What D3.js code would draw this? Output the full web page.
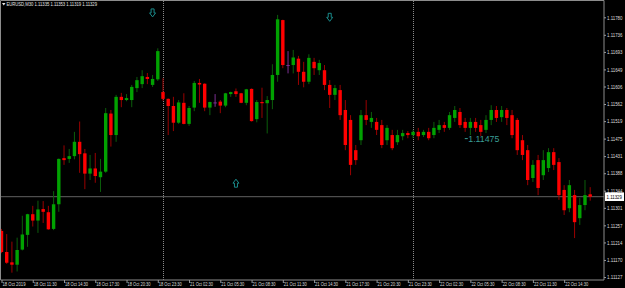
<!DOCTYPE html>
<html>
<head>
<meta charset="utf-8">
<script src="https://cdn.jsdelivr.net/npm/d3@7"></script>
<style>
  html, body { margin: 0; padding: 0; background: #000; }
  svg { display: block; }
</style>
</head>
<body>
<div id="chart"></div>
<script>
// EURUSD M30 candles, 18 Oct 08:30 .. 22 Oct 16:30
let opens = [
  1.11243, 1.11190, 1.11164, 1.11158, 1.11196, 1.11233, 1.11285, 1.11269, 1.11298, 1.11290,
  1.11248, 1.11310, 1.11426, 1.11424, 1.11431, 1.11467, 1.11438, 1.11387, 1.11400, 1.11378,
  1.11392, 1.11538, 1.11484, 1.11580, 1.11572, 1.11572, 1.11602, 1.11612, 1.11630, 1.11610,
  1.11624, 1.11592, 1.11575, 1.11557, 1.11515, 1.11565, 1.11512, 1.11553, 1.11615, 1.11613,
  1.11553, 1.11566, 1.11568, 1.11558, 1.11587, 1.11594, 1.11589, 1.11565, 1.11600, 1.11524,
  1.11567, 1.11564, 1.11572, 1.11635, 1.11773, 1.11660, 1.11660, 1.11676, 1.11643, 1.11618,
  1.11668, 1.11647, 1.11647, 1.11610, 1.11585, 1.11597, 1.11547, 1.11522, 1.11446, 1.11471,
  1.11534, 1.11517, 1.11517, 1.11509, 1.11471, 1.11484, 1.11466, 1.11481, 1.11489, 1.11484,
  1.11492, 1.11484, 1.11492, 1.11484, 1.11497, 1.11509, 1.11502, 1.11527, 1.11542, 1.11517,
  1.11502, 1.11517, 1.11509, 1.11497, 1.11522, 1.11547, 1.11529, 1.11547, 1.11534, 1.11522,
  1.11471, 1.11446, 1.11376, 1.11421, 1.11383, 1.11401, 1.11441, 1.11416, 1.11346, 1.11300,
  1.11333, 1.11275, 1.11308, 1.11335
];
let highs = [
  1.11248, 1.11235, 1.11216, 1.11226, 1.11281, 1.11286, 1.11306, 1.11319, 1.11318, 1.11306,
  1.11343, 1.11425, 1.11458, 1.11449, 1.11492, 1.11518, 1.11449, 1.11434, 1.11439, 1.11424,
  1.11552, 1.11547, 1.11585, 1.11590, 1.11587, 1.11610, 1.11630, 1.11647, 1.11640, 1.11635,
  1.11702, 1.11627, 1.11576, 1.11580, 1.11572, 1.11589, 1.11557, 1.11620, 1.11625, 1.11614,
  1.11568, 1.11587, 1.11572, 1.11590, 1.11593, 1.11601, 1.11590, 1.11600, 1.11601, 1.11572,
  1.11603, 1.11582, 1.11662, 1.11786, 1.11774, 1.11695, 1.11698, 1.11683, 1.11668, 1.11687,
  1.11678, 1.11673, 1.11660, 1.11622, 1.11610, 1.11610, 1.11572, 1.11534, 1.11459, 1.11547,
  1.11572, 1.11542, 1.11527, 1.11522, 1.11509, 1.11497, 1.11497, 1.11497, 1.11494, 1.11497,
  1.11502, 1.11497, 1.11502, 1.11517, 1.11522, 1.11517, 1.11542, 1.11557, 1.11552, 1.11527,
  1.11527, 1.11527, 1.11522, 1.11534, 1.11559, 1.11557, 1.11557, 1.11552, 1.11547, 1.11527,
  1.11484, 1.11459, 1.11421, 1.11434, 1.11446, 1.11451, 1.11451, 1.11426, 1.11358, 1.11371,
  1.11346, 1.11326, 1.11371, 1.11353
];
let lows = [
  1.11187, 1.11160, 1.11138, 1.11141, 1.11194, 1.11203, 1.11254, 1.11238, 1.11263, 1.11246,
  1.11245, 1.11291, 1.11409, 1.11414, 1.11423, 1.11389, 1.11348, 1.11371, 1.11364, 1.11341,
  1.11389, 1.11455, 1.11467, 1.11554, 1.11569, 1.11554, 1.11592, 1.11602, 1.11612, 1.11605,
  1.11620, 1.11570, 1.11484, 1.11494, 1.11512, 1.11511, 1.11507, 1.11544, 1.11565, 1.11544,
  1.11534, 1.11555, 1.11539, 1.11554, 1.11580, 1.11580, 1.11564, 1.11559, 1.11518, 1.11516,
  1.11527, 1.11488, 1.11549, 1.11618, 1.11652, 1.11639, 1.11639, 1.11610, 1.11604, 1.11612,
  1.11635, 1.11635, 1.11597, 1.11552, 1.11572, 1.11522, 1.11446, 1.11383, 1.11409, 1.11459,
  1.11509, 1.11502, 1.11484, 1.11451, 1.11459, 1.11446, 1.11459, 1.11471, 1.11476, 1.11476,
  1.11471, 1.11479, 1.11471, 1.11476, 1.11489, 1.11492, 1.11497, 1.11517, 1.11502, 1.11492,
  1.11484, 1.11492, 1.11481, 1.11489, 1.11509, 1.11517, 1.11517, 1.11509, 1.11476, 1.11434,
  1.11421, 1.11358, 1.11366, 1.11333, 1.11371, 1.11391, 1.11396, 1.11321, 1.11283, 1.11290,
  1.11225, 1.11258, 1.11295, 1.11319
];
let closes = [
  1.11190, 1.11163, 1.11158, 1.11195, 1.11234, 1.11285, 1.11269, 1.11297, 1.11291, 1.11247,
  1.11310, 1.11424, 1.11421, 1.11431, 1.11467, 1.11436, 1.11387, 1.11400, 1.11381, 1.11392,
  1.11539, 1.11484, 1.11580, 1.11572, 1.11577, 1.11605, 1.11622, 1.11632, 1.11625, 1.11625,
  1.11695, 1.11575, 1.11557, 1.11515, 1.11566, 1.11512, 1.11552, 1.11615, 1.11611, 1.11553,
  1.11567, 1.11566, 1.11558, 1.11589, 1.11592, 1.11587, 1.11565, 1.11599, 1.11519, 1.11567,
  1.11564, 1.11572, 1.11635, 1.11775, 1.11660, 1.11660, 1.11679, 1.11643, 1.11618, 1.11678,
  1.11652, 1.11665, 1.11610, 1.11585, 1.11602, 1.11534, 1.11459, 1.11409, 1.11421, 1.11534,
  1.11522, 1.11527, 1.11497, 1.11459, 1.11502, 1.11451, 1.11484, 1.11489, 1.11484, 1.11492,
  1.11481, 1.11492, 1.11476, 1.11502, 1.11509, 1.11502, 1.11534, 1.11547, 1.11509, 1.11502,
  1.11517, 1.11502, 1.11492, 1.11522, 1.11547, 1.11527, 1.11547, 1.11527, 1.11484, 1.11446,
  1.11434, 1.11371, 1.11409, 1.11351, 1.11421, 1.11441, 1.11409, 1.11333, 1.11295, 1.11358,
  1.11265, 1.11308, 1.11333, 1.11329
];

let priceTicks = [
  1.11780, 1.11736, 1.11693, 1.11649, 1.11606, 1.11562, 1.11519, 1.11475,
  1.11431, 1.11388, 1.11344, 1.11301, 1.11257, 1.11214, 1.11170, 1.11127
];

let timeLabels = [
  "18 Oct 2019", "18 Oct 11:30", "18 Oct 14:30", "18 Oct 17:30", "18 Oct 20:30",
  "18 Oct 23:30", "21 Oct 02:30", "21 Oct 05:30", "21 Oct 08:30", "21 Oct 11:30",
  "21 Oct 14:30", "21 Oct 17:30", "21 Oct 20:30", "21 Oct 23:30", "22 Oct 02:30",
  "22 Oct 05:30", "22 Oct 08:30", "22 Oct 11:30", "22 Oct 14:30"
];
let timeLabelBars = [0, 6, 12, 18, 24, 30, 36, 42, 48, 54, 60, 66, 72, 78, 84, 90, 96, 102, 108];

let separatorBars = [31, 79];

let arrowBars = [29, 63, 45];
let arrowPrices = [1.11791, 1.11780, 1.11363];
let arrowDirs = ["down", "down", "up"];

let levelLabel = "1.11475";
let levelBar = 89.5;
let levelPrice = 1.11475;

let symbol = "EURUSD,M30";

let width = 625;
let height = 288;
let axisX = 604;
let axisY = 280;
let bodyW = 3.4;

let svg = d3
  .select("#chart")
  .append("svg")
  .attr("width", width)
  .attr("height", height)
  .style("background", "#000");

let xScale = d3.scaleLinear().domain([0, 113]).range([1.5, 590.2]);
let yScale = d3.scaleLinear().domain([1.11780, 1.11329]).range([17.3, 196.7]);

let fontFam = "'Liberation Sans', Arial, sans-serif";

// period separators
svg.selectAll("line.sep")
  .data(separatorBars)
  .enter()
  .append("line")
  .attr("class", "sep")
  .attr("x1", d => Math.round(xScale(d)) + 0.5)
  .attr("x2", d => Math.round(xScale(d)) + 0.5)
  .attr("y1", 1)
  .attr("y2", axisY)
  .attr("stroke", "#8a8a8a")
  .attr("stroke-width", 1)
  .attr("stroke-dasharray", "1,1");

// current price line
let lastClose = closes[closes.length - 1];
svg.append("line")
  .attr("x1", 0)
  .attr("x2", axisX)
  .attr("y1", yScale(lastClose))
  .attr("y2", yScale(lastClose))
  .attr("stroke", "#606060")
  .attr("stroke-width", 1);

// candles
let bars = d3.range(opens.length).map(function(i) {
  return { i: i, o: opens[i], h: highs[i], l: lows[i], c: closes[i] };
});

function barColor(d, wick) {
  if (d.o === d.c) return "#7c2f92";
  if (d.c > d.o) return wick ? "#0b5e0b" : "#01a201";
  return wick ? "#9a0000" : "#ff0000";
}

let candles = svg.selectAll("g.candle").data(bars).enter().append("g").attr("class", "candle");

candles.append("line")
  .attr("x1", d => xScale(d.i))
  .attr("x2", d => xScale(d.i))
  .attr("y1", d => yScale(d.h))
  .attr("y2", d => yScale(d.l))
  .attr("stroke", d => barColor(d, true))
  .attr("stroke-width", 1);

candles.append("rect")
  .attr("x", d => xScale(d.i) - bodyW / 2)
  .attr("width", bodyW)
  .attr("y", d => yScale(Math.max(d.o, d.c)))
  .attr("height", d => Math.max(1, Math.abs(yScale(d.o) - yScale(d.c))))
  .attr("fill", d => barColor(d, false));

// arrows
function arrowPath(cx, cy, dir) {
  let s = dir === "down" ? 1 : -1;
  return "M" + (cx - 1.5) + "," + (cy - 4 * s) +
    "H" + (cx + 1.5) + "V" + cy + "H" + (cx + 3) +
    "L" + cx + "," + (cy + 4 * s) + "L" + (cx - 3) + "," + cy +
    "H" + (cx - 1.5) + "Z";
}
svg.selectAll("path.arrow")
  .data(arrowBars)
  .enter()
  .append("path")
  .attr("class", "arrow")
  .attr("d", (d, i) => arrowPath(xScale(d), yScale(arrowPrices[i]), arrowDirs[i]))
  .attr("fill", "none")
  .attr("stroke", "#1a8c8c")
  .attr("stroke-width", 1);

// price level label
svg.append("line")
  .attr("x1", xScale(levelBar) - 3)
  .attr("x2", xScale(levelBar))
  .attr("y1", yScale(levelPrice))
  .attr("y2", yScale(levelPrice))
  .attr("stroke", "#3a9e96");
svg.append("text")
  .attr("x", xScale(levelBar) + 0.5)
  .attr("y", yScale(levelPrice) + 3)
  .attr("fill", "#3a9e96")
  .attr("font-family", fontFam)
  .attr("font-size", "8.5px")
  .attr("textLength", 31)
  .attr("lengthAdjust", "spacingAndGlyphs")
  .text(levelLabel);

// frame
svg.append("path")
  .attr("d", "M0.5," + axisY + "V0.5H" + axisX + "V" + axisY + "H0.5")
  .attr("fill", "none")
  .attr("stroke", "#8c8c8c")
  .attr("stroke-width", 1);

// price axis
let yAxis = d3.axisRight(yScale)
  .tickValues(priceTicks)
  .tickFormat(d3.format(".5f"))
  .tickSize(2)
  .tickPadding(1);

let yAxisG = svg.append("g")
  .attr("class", "yAxis")
  .attr("transform", "translate(" + axisX + ",0)")
  .call(yAxis);
yAxisG.select(".domain").remove();
yAxisG.selectAll("line").attr("stroke", "#9a9a9a");
yAxisG.selectAll("text")
  .attr("fill", "#dcdcdc")
  .attr("font-family", fontFam)
  .attr("font-size", "5.5px")
  .attr("textLength", 15.5)
  .attr("lengthAdjust", "spacingAndGlyphs");

// time axis
let tScale = xScale.copy();
let xAxis = d3.axisBottom(tScale)
  .tickValues(timeLabelBars)
  .tickFormat((d, i) => timeLabels[i])
  .tickSize(3);

let xAxisG = svg.append("g")
  .attr("class", "xAxis")
  .attr("transform", "translate(0," + axisY + ")")
  .call(xAxis);
xAxisG.select(".domain").remove();
xAxisG.selectAll("line").attr("stroke", "#9a9a9a");
xAxisG.selectAll("text")
  .attr("text-anchor", "start")
  .attr("x", 0.5)
  .attr("y", 6.3)
  .attr("dy", 0)
  .attr("fill", "#dcdcdc")
  .attr("font-family", fontFam)
  .attr("font-size", "5.5px")
  .attr("textLength", 23)
  .attr("lengthAdjust", "spacingAndGlyphs");

// current price box
let cy = yScale(lastClose);
svg.append("rect")
  .attr("x", axisX + 1)
  .attr("y", cy - 4.3)
  .attr("width", 19)
  .attr("height", 8.6)
  .attr("fill", "#fff");
svg.append("text")
  .attr("x", axisX + 2.5)
  .attr("y", cy + 2)
  .attr("fill", "#000")
  .attr("font-family", fontFam)
  .attr("font-size", "5.5px")
  .attr("textLength", 15.5)
  .attr("lengthAdjust", "spacingAndGlyphs")
  .text(d3.format(".5f")(lastClose));

// title: symbol and last bar OHLC in one line
let last = opens.length - 1;
svg.append("path")
  .attr("d", "M2,3H5.5L3.75,5.5Z")
  .attr("fill", "#e6e6e6");
svg.append("text")
  .attr("x", 6.5)
  .attr("y", 6.3)
  .attr("fill", "#e6e6e6")
  .attr("font-family", fontFam)
  .attr("font-size", "5.5px")
  .attr("textLength", 90.5)
  .attr("lengthAdjust", "spacingAndGlyphs")
  .text(symbol + "  " + [opens[last], highs[last], lows[last], closes[last]].map(d3.format(".5f")).join(" "));
</script>
</body>
</html>
